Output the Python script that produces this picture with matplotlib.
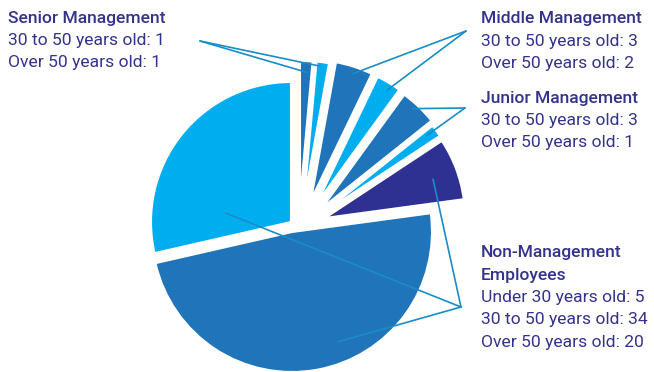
import numpy as np
import matplotlib.pyplot as plt

plt.rcParams['font.family'] = ['Roboto', 'DejaVu Sans']

# headcount by management level and age band, clockwise from 12 o'clock
groups = ["Senior Management", "Middle Management", "Junior Management",
          "Non-Management\nEmployees"]
age_bands = [
    ["30 to 50 years old", "Over 50 years old"],
    ["30 to 50 years old", "Over 50 years old"],
    ["30 to 50 years old", "Over 50 years old"],
    ["Under 30 years old", "30 to 50 years old", "Over 50 years old"],
]
counts = [
    [1, 1],
    [3, 2],
    [3, 1],
    [5, 34, 20],
]

MID = "#1f74ba"
LIGHT = "#00aeef"
NAVY = "#2e3192"
slice_colors = [MID, LIGHT, MID, LIGHT, MID, LIGHT, NAVY, MID, LIGHT]

# pulled-out offset of each slice in pixels (right, down)
shifts = [(10, -20), (14, -20), (21, -21), (27, -18), (32, -13), (33, -8),
          (35, -3), (2, 11), (1, 1)]

TEXT = "#34338c"
LINE = "#1a8cc6"
W, H = 654, 372
CX, CY, R = 290, 221, 140

values = [v for grp in counts for v in grp]

fig = plt.figure(figsize=(W / 100, H / 100), dpi=100)
ax = fig.add_axes([0, 0, 1, 1])

wedges, _ = ax.pie(values, colors=slice_colors, startangle=90, counterclock=False,
                   radius=R, center=(CX, H - CY),
                   wedgeprops=dict(edgecolor="white", linewidth=1.5))
for w, (dx, dy) in zip(wedges, shifts):
    w.set_center((CX + dx, H - CY - dy))

# pie() resets the limits, so set the pixel frame afterwards
ax.set_xlim(0, W)
ax.set_ylim(0, H)
ax.set_aspect("equal")
ax.axis("off")

# where each leader line lands: (clockwise fraction across the slice, fraction of radius)
anchors = [(0.6, 0.92), (0.3, 0.97), (0.52, 0.95), (0.6, 0.95), (0.41, 0.96),
           (0.35, 0.93), (0.53, 0.82), (0.43, 0.85), (0.2, 0.47)]


def anchor_point(w, f, rf):
    ang = np.deg2rad(w.theta2 - f * (w.theta2 - w.theta1))
    cx, cy = w.center
    return cx + rf * w.r * np.cos(ang), cy + rf * w.r * np.sin(ang)


# label blocks: left x, first line centre (from top), leader origin (from top)
blocks = [
    (8, 18, (200, 41)),
    (481, 19, (466, 31)),
    (481, 98, (465, 108)),
    (481, 253, (461, 307)),
]
step = 22.3

k = 0
for g, (x0, y0, origin) in enumerate(blocks):
    lines = groups[g].split("\n")
    y = y0
    for ln in lines:
        ax.text(x0, H - y, ln, color=TEXT, fontsize=12.6, fontweight="medium",
                va="center", ha="left")
        y += step
    for band, n in zip(age_bands[g], counts[g]):
        ax.text(x0, H - y, f"{band}: {n}", color=TEXT, fontsize=12.6,
                va="center", ha="left")
        y += step
    ox, oy = origin
    for _ in counts[g]:
        px, py = anchor_point(wedges[k], *anchors[k])
        ax.plot([ox, px], [H - oy, py], color=LINE, lw=1.2, solid_capstyle="round")
        k += 1

fig.savefig("out.png", dpi=100, facecolor="white")
